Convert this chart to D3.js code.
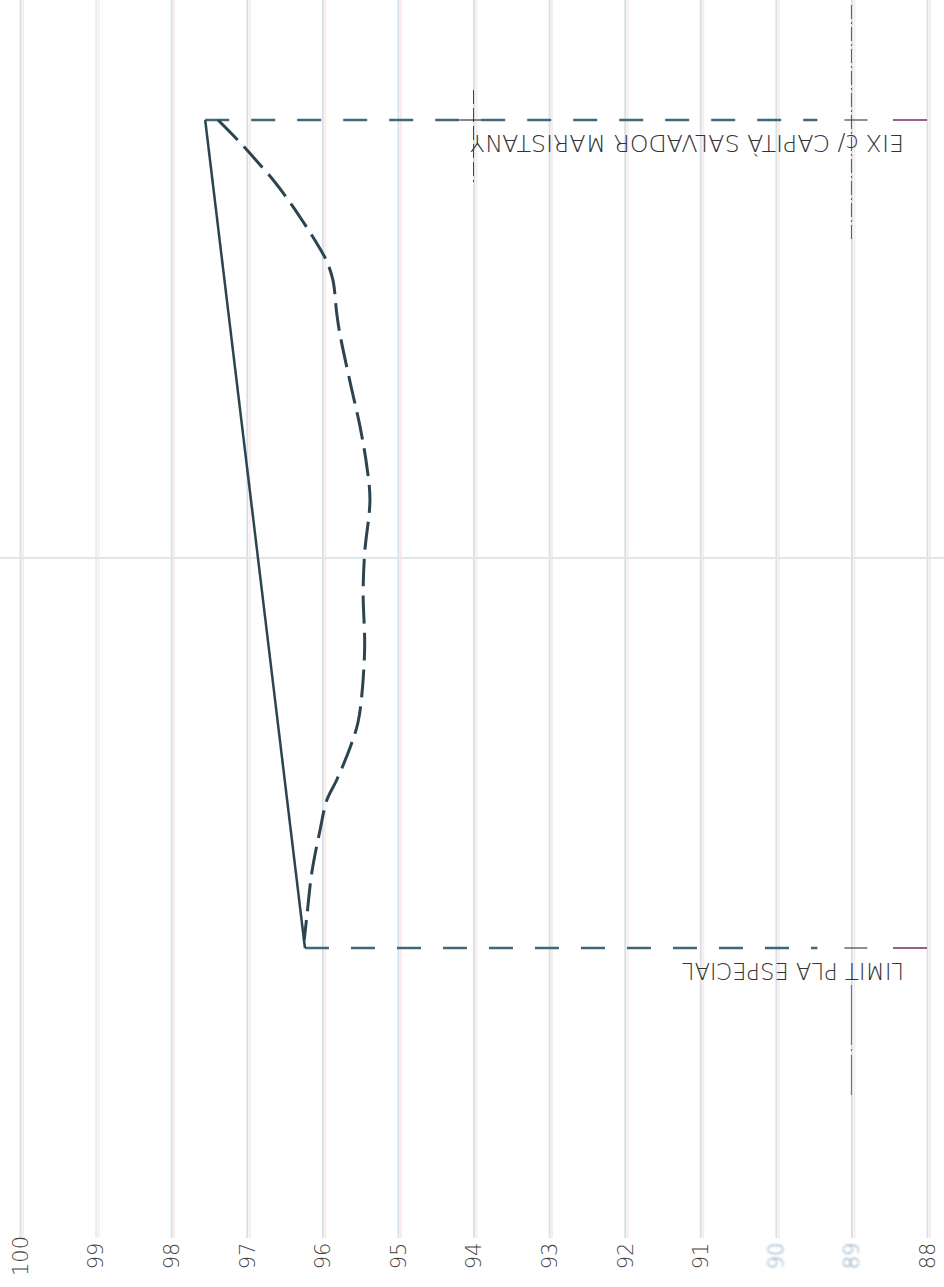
<!DOCTYPE html>
<html>
<head>
<meta charset="utf-8">
<script src="https://cdn.jsdelivr.net/npm/d3@7"></script>
<style>
  body { margin: 0; background: white; }
</style>
</head>
<body>
<script>
width = 944
height = 1287

// elevation ticks (m) and along-road stations (m)
elevTicks = [100, 99, 98, 97, 96, 95, 94, 93, 92, 91, 90, 89, 88]
fadedTicks = [90, 89]

// terrain (dashed)
terrainDist = [0, 2, 4, 6, 8, 10, 12, 14, 16, 19.3, 21.3, 26.3, 30.7, 34.7, 38, 43.3, 47.3, 52.7, 57.7, 60.3, 62.7, 66, 68, 71, 75.3, 79.3, 82]
terrainElev = [97.38, 97.12, 96.88, 96.65, 96.45, 96.27, 96.10, 95.95, 95.86, 95.81, 95.77, 95.63, 95.50, 95.41, 95.37, 95.44, 95.46, 95.44, 95.48, 95.53, 95.63, 95.81, 95.94, 96.03, 96.14, 96.20, 96.24]

// proposed grade (solid)
gradeDist = [0, 82.8]
gradeElev = [97.55, 96.23]

// section ends
endDist = [0, 82.8]
endNames = ["EIX c/ CAPITÀ SALVADOR MARISTANY", "LIMIT PLA ESPECIAL"]
endTextLen = [434, 222]
midDist = 43.8

x = d3.scaleLinear().domain([100, 88]).range([20, 927])
y = d3.scaleLinear().domain([0, 82.8]).range([120, 948])

svg = d3.select("body")
    .append("svg")
    .attr("width", width)
    .attr("height", height)

svg.append("rect")
    .attr("width", width)
    .attr("height", height)
    .attr("fill", "white")

svg.append("filter").attr("id", "soft")
    .append("feGaussianBlur").attr("stdDeviation", 0.9)

// faint pink ghost of the grid
svg.append("g")
    .selectAll("line")
    .data(elevTicks)
    .enter()
    .append("line")
    .attr("x1", d => x(d) + 3)
    .attr("x2", d => x(d) + 3)
    .attr("y1", 0)
    .attr("y2", 1238)
    .attr("stroke", "#fcebe6")
    .attr("stroke-width", 2)

// grid + labels from an axis
axis = d3.axisBottom(x)
    .tickValues(elevTicks)
    .tickSize(-1238)
    .tickFormat(d3.format("d"))

gAxis = svg.append("g")
    .attr("transform", "translate(0,1238)")
    .call(axis)

gAxis.select(".domain").remove()
gAxis.selectAll(".tick line")
    .attr("stroke", d => d == 99 ? "#e6edf2" : "#d3e0ea")
    .attr("stroke-width", 1.8)
gAxis.selectAll(".tick text")
    .attr("transform", "rotate(-90)")
    .attr("x", -18)
    .attr("y", 0)
    .attr("dy", "0.35em")
    .attr("text-anchor", "middle")
    .attr("font-family", "DejaVu Sans")
    .attr("font-weight", 200)
    .attr("font-size", 21)
    .attr("fill", d => fadedTicks.indexOf(d) >= 0 ? "#7f9fb6" : "#444")
    .attr("filter", d => fadedTicks.indexOf(d) >= 0 ? "url(#soft)" : null)

// light cross line at mid section
svg.append("line")
    .attr("x1", 0).attr("x2", width)
    .attr("y1", y(midDist)).attr("y2", y(midDist))
    .attr("stroke", "#dfe6ec")
    .attr("stroke-width", 2)

// reference line at 89 (dash-dot)
svg.append("line")
    .attr("x1", x(89)).attr("x2", x(89))
    .attr("y1", 5).attr("y2", 240)
    .attr("stroke", "#555")
    .attr("stroke-width", 1)
    .attr("stroke-dasharray", "14,3,2,3")
svg.append("line")
    .attr("x1", x(89)).attr("x2", x(89))
    .attr("y1", 985).attr("y2", 1095)
    .attr("stroke", "#666")
    .attr("stroke-width", 1)
    .attr("stroke-dasharray", "60,4,2,4")

// end verticals (dashed), from grade to the datum
svg.append("g")
    .selectAll("line")
    .data(endDist)
    .enter()
    .append("line")
    .attr("x1", (d, i) => x(gradeElev[i]))
    .attr("x2", x(89.45))
    .attr("y1", d => y(d))
    .attr("y2", d => y(d))
    .attr("stroke", "#40687a")
    .attr("stroke-width", 2.5)
    .attr("stroke-dasharray", "24,22")

// short end marks
svg.append("g")
    .selectAll("line")
    .data(endDist)
    .enter()
    .append("line")
    .attr("x1", x(89) - 7)
    .attr("x2", x(89) + 16)
    .attr("y1", d => y(d))
    .attr("y2", d => y(d))
    .attr("stroke", "#444")
    .attr("stroke-width", 1.2)
svg.append("g")
    .selectAll("line")
    .data(endDist)
    .enter()
    .append("line")
    .attr("x1", x(88.45))
    .attr("x2", x(88))
    .attr("y1", d => y(d))
    .attr("y2", d => y(d))
    .attr("stroke", "#7b2d5e")
    .attr("stroke-width", 1.5)

// tick at the label start of the first section
svg.append("line")
    .attr("x1", x(94)).attr("x2", x(94))
    .attr("y1", 90).attr("y2", 182)
    .attr("stroke", "#444")
    .attr("stroke-width", 1)
    .attr("stroke-dasharray", "14,4")
svg.append("line")
    .attr("x1", x(94) - 14).attr("x2", x(94) + 8)
    .attr("y1", y(0)).attr("y2", y(0))
    .attr("stroke", "#333")
    .attr("stroke-width", 1.2)

// terrain
terrainLine = d3.line()
    .x((d, i) => x(terrainElev[i]))
    .y(d => y(d))
    .curve(d3.curveCatmullRom)

svg.append("path")
    .datum(terrainDist)
    .attr("d", terrainLine)
    .attr("fill", "none")
    .attr("stroke", "#2b4450")
    .attr("stroke-width", 3)
    .attr("stroke-dasharray", "28,9")

// grade
gradeLine = d3.line()
    .x((d, i) => x(gradeElev[i]))
    .y(d => y(d))

svg.append("path")
    .datum(gradeDist)
    .attr("d", gradeLine)
    .attr("fill", "none")
    .attr("stroke", "#2b4450")
    .attr("stroke-width", 2.5)

// section names, upside down
textY = [135, 963]
svg.append("g")
    .selectAll("text")
    .data(endNames)
    .enter()
    .append("text")
    .attr("transform", (d, i) => "translate(" + 904 + "," + textY[i] + ") rotate(180)")
    .attr("text-anchor", "start")
    .attr("font-family", "DejaVu Sans")
    .attr("font-weight", 200)
    .attr("font-size", 23)
    .attr("textLength", (d, i) => endTextLen[i])
    .attr("lengthAdjust", "spacingAndGlyphs")
    .attr("fill", "#333")
    .text(d => d)
</script>
</body>
</html>
